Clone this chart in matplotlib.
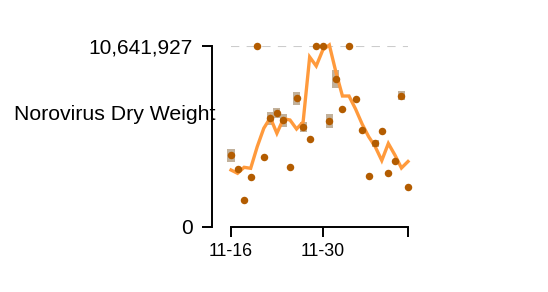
#!/usr/bin/env python3
import matplotlib
import numpy as np
import pandas as pd

matplotlib.use("Agg")
import matplotlib.pyplot as plt

plt.rcParams["font.family"] = ["Liberation Sans", "DejaVu Sans"]

Y_MAX = 10641927
START = "2023-11-16"

# daily sample values (points); the ones at the top are clipped at Y_MAX
samples = [
    4205000, 3381000, 1590000, 2945000, 10641927, 4105000, 6384000,
    6696000, 6284000, 3534000, 7562000, 5889000, 5183000, 10641927,
    10641927, 6225000, 8681000, 6949000, 10641927, 7503000, 5713000,
    3004000, 4929000, 5654000, 3145000, 3887000, 7715000, 2320000,
]
# replicate ranges (low, high) for days that have them, keyed by day index
range_days = [0, 6, 7, 8, 10, 11, 15, 16, 22, 26]
range_low = [3800000, 6000000, 6380000, 5900000, 7150000, 5580000, 5820000, 8150000, 4720000, 7450000]
range_high = [4600000, 6750000, 7000000, 6650000, 7950000, 6180000, 6620000, 9200000, 5130000, 7980000]
# smoothed trend
trend = [
    3339000, 3145000, 3498000, 3439000, 4711000, 5795000, 6419000,
    5501000, 6360000, 6284000, 5754000, 6166000, 9994000, 9464000,
    10406000, 10700000, 9111000, 7697000, 7697000, 6932000, 6048000,
    5300000, 4711000, 3899000, 4900000, 4223000, 3457000, 3840000,
]
tick_days = [0, 14, 27]
tick_labels = ["11-16", "11-30", ""]

dates = pd.date_range(START, periods=len(samples), freq="D")

fig = plt.figure(figsize=(5.48, 2.92), dpi=100)
ax = fig.add_axes([231 / 548, 65.3 / 292, 177 / 548, 180.7 / 292])

ax.axhline(Y_MAX, color="#cccccc", linewidth=1.5, dashes=(4, 3.5), zorder=1)

low = np.array(range_low)
high = np.array(range_high)
ax.bar(dates[range_days], high - low, bottom=low, width=1.1,
       color="#c2b19b", edgecolor="none", zorder=2, clip_on=False)
ax.plot(dates, trend, color="#ff9a3c", linewidth=2.4, solid_joinstyle="miter",
        zorder=3, clip_on=False)
ax.plot(dates, samples, "o", color="#b35c00", markersize=5.4, markeredgewidth=0,
        zorder=4, clip_on=False)

ax.set_xlim(dates[0], dates[-1])
ax.set_ylim(0, Y_MAX)

for side in ("top", "right"):
    ax.spines[side].set_visible(False)
ax.spines["left"].set_position(("outward", 13.7))
ax.spines["left"].set_linewidth(1.4)
ax.spines["bottom"].set_linewidth(1.4)

ax.set_yticks([0, Y_MAX])
ax.set_yticklabels(["0", f"{Y_MAX:,}"])
ax.set_xticks(dates[tick_days])
ax.set_xticklabels(tick_labels)
ax.tick_params(axis="y", length=7.2, width=1.4, pad=6.5, labelsize=15)
ax.tick_params(axis="x", length=7.2, width=1.4, pad=4.3, labelsize=12.8)

ax.set_ylabel("Norovirus Dry Weight", rotation=0, fontsize=15.3, ha="right", va="baseline")
ax.yaxis.set_label_coords(-0.085, 0.59)

fig.savefig("out.png", dpi=100)
